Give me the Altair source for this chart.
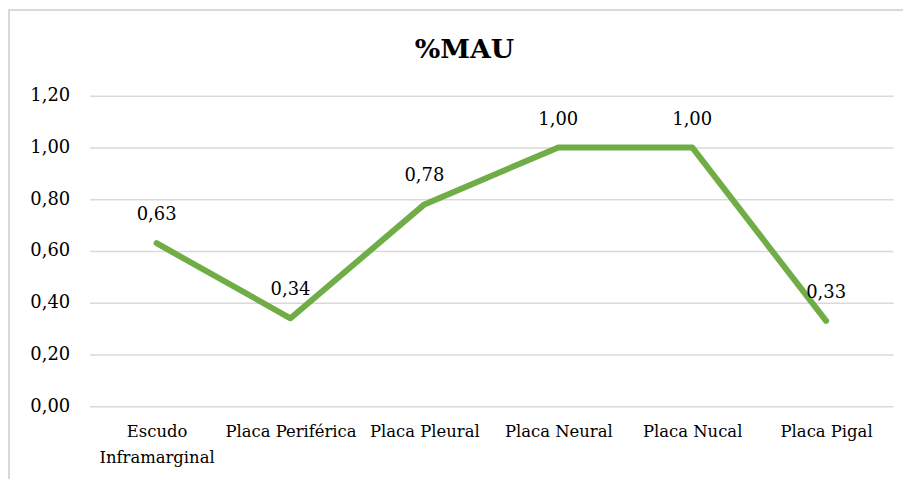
import altair as alt
import pandas as pd

categories = ["Escudo Inframarginal", "Placa Periférica", "Placa Pleural",
              "Placa Neural", "Placa Nucal", "Placa Pigal"]
values = [0.63, 0.34, 0.78, 1.00, 1.00, 0.33]
y_ticks = [0.0, 0.2, 0.4, 0.6, 0.8, 1.0, 1.2]

df = pd.DataFrame({"cat": categories, "v": values})

FONT = "DejaVu Serif"

x_enc = alt.X("cat:N", sort=categories, title=None,
              scale=alt.Scale(paddingInner=0, paddingOuter=0),
              axis=alt.Axis(labelAngle=0, ticks=False, domain=False, labelPadding=17,
                            labelFont=FONT, labelFontSize=16.5, labelColor="#000000",
                            labelLineHeight=26, labelLimit=200,
                            labelExpr="datum.label == 'Escudo Inframarginal' ? ['Escudo', 'Inframarginal'] : datum.label"))
y_enc = alt.Y("v:Q", title=None,
              scale=alt.Scale(domain=[0, 1.2], nice=False, zero=True),
              axis=alt.Axis(values=y_ticks, ticks=False, domain=False, labelPadding=20,
                            labelFont=FONT, labelFontSize=18, labelColor="#000000",
                            gridColor="#d9d9d9", gridWidth=1.5,
                            labelExpr="replace(format(datum.value, '.2f'), '.', ',')"))

base = alt.Chart(df)

frame = base.mark_rect(filled=False, stroke="#d9d9d9", strokeWidth=1.5, clip=False).encode(
    x=alt.value(-81), x2=alt.value(900), y=alt.value(-86), y2=alt.value(500))

line = base.mark_line(color="#70AD47", strokeWidth=6, strokeCap="round", strokeJoin="round").encode(
    x=x_enc, y=y_enc)

labels = base.transform_calculate(
    lab="replace(format(datum.v, '.2f'), '.', ',')"
).mark_text(font=FONT, fontSize=18, color="#000000", baseline="middle", dy=-28).encode(
    x=alt.X("cat:N", sort=categories),
    y=alt.Y("v:Q"),
    text="lab:N")

chart = alt.layer(frame, line, labels).properties(
    width=807, height=312,
    title=alt.TitleParams("%MAU", font=FONT, fontSize=27, fontWeight="bold", color="#000000",
                          anchor="middle", frame="group", baseline="alphabetic",
                          dx=-27, dy=76, offset=0),
    autosize=alt.AutoSizeParams(type="none"),
    padding={"left": 82, "top": 87, "right": 10, "bottom": 80},
).configure(background="white").configure_view(stroke=None)

chart.save("out.html", embed_options={"renderer": "svg", "actions": False})
